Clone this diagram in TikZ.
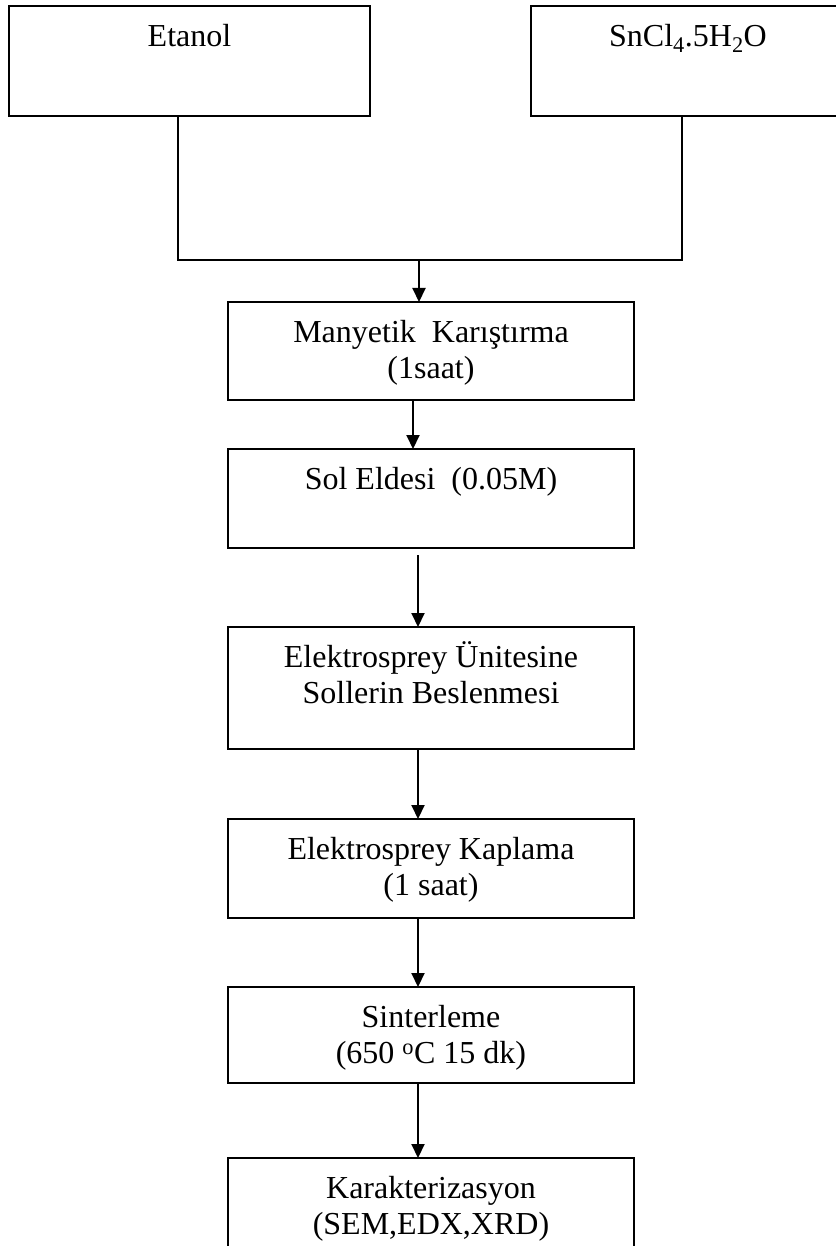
\documentclass[tikz,border=0pt]{standalone}
\usepackage{fontspec}
\setmainfont{Liberation Serif}
\usetikzlibrary{arrows.meta}

\newcommand{\boxtext}[3]{\parbox[c][#2][t]{#1}{\centering\vspace*{14.5pt}\strut #3}}

\begin{document}
\begin{tikzpicture}[x=1pt,y=-1pt,->,>={Triangle[width=13pt,length=14pt]},line width=2pt,
    stepbox/.style={draw,rectangle,inner sep=0pt,outer sep=0pt,anchor=north,font=\fontsize{32}{36.5}\selectfont}]

    \useasboundingbox (0,0) rectangle (835,1246);

    % starting materials
    \node[stepbox] (etanol) at (189.5,6) {\boxtext{361pt}{110pt}{Etanol}};
    \node[stepbox] (sncl) at (688,6) {\boxtext{314pt}{110pt}{SnCl\textsubscript{4}.5H\textsubscript{2}O}};

    % process steps
    \node[stepbox] (mix) at (431,302) {\boxtext{406pt}{98pt}{Manyetik\ \ Karıştırma\\(1saat)}};
    \node[stepbox] (sol) at (431,449) {\boxtext{406pt}{99pt}{Sol Eldesi\ \ (0.05M)}};
    \node[stepbox] (feed) at (431,627) {\boxtext{406pt}{122pt}{Elektrosprey Ünitesine\\Sollerin Beslenmesi}};
    \node[stepbox] (coat) at (431,819) {\boxtext{406pt}{99pt}{Elektrosprey Kaplama\\(1 saat)}};
    \node[stepbox] (sinter) at (431,987) {\boxtext{406pt}{96pt}{Sinterleme\\(650 \textsuperscript{o}C 15 dk)}};
    \node[stepbox] (char) at (431,1158) {\boxtext{406pt}{130pt}{Karakterizasyon\\(SEM,EDX,XRD)}};

    \coordinate (join) at (419,260);

    \draw[-] ([xshift=-11.5pt]etanol.south) |- (join);
    \draw[-] ([xshift=-6pt]sncl.south) |- (join);
    \draw (join) -- (join |- mix.north);

    \draw ([xshift=-18pt]mix.south) -- ([xshift=-18pt]sol.north);
    \draw ([xshift=-13pt,yshift=-7pt]sol.south) -- ([xshift=-13pt]feed.north);
    \draw ([xshift=-13pt]feed.south) -- ([xshift=-13pt]coat.north);
    \draw ([xshift=-13pt]coat.south) -- ([xshift=-13pt]sinter.north);
    \draw ([xshift=-13pt]sinter.south) -- ([xshift=-13pt]char.north);

\end{tikzpicture}
\end{document}
